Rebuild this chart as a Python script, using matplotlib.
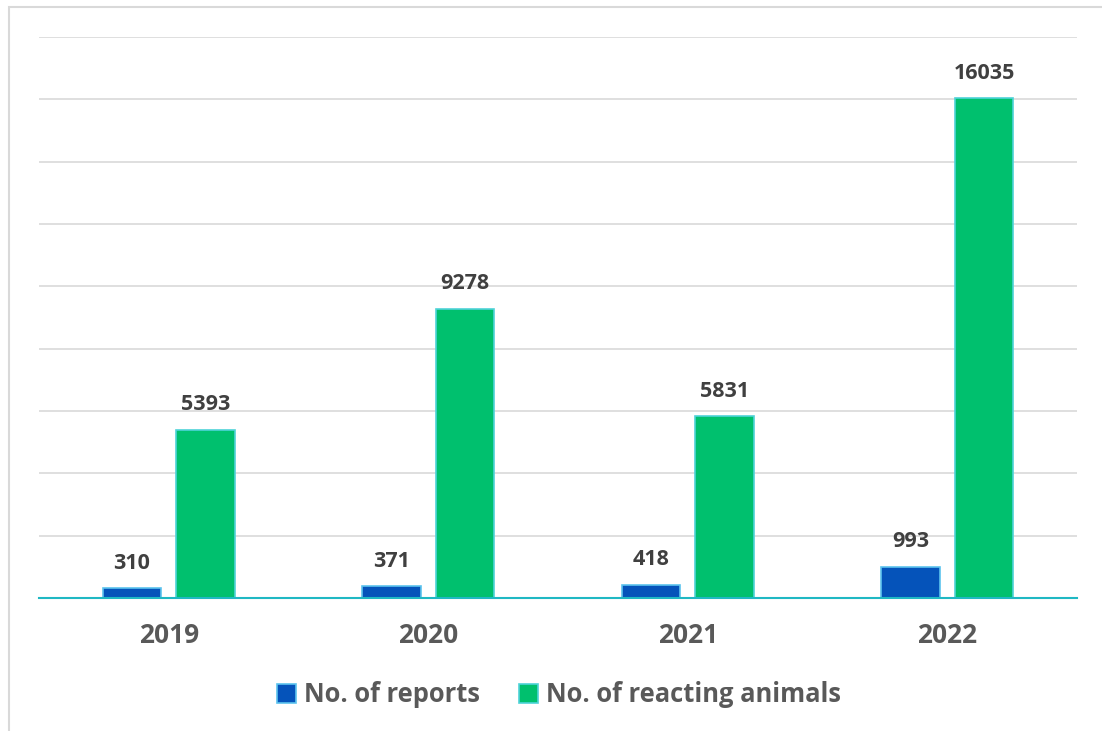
import matplotlib
matplotlib.use("Agg")
import matplotlib.pyplot as plt
from matplotlib.patches import Rectangle
import numpy as np

years = ["2019", "2020", "2021", "2022"]
reports = [310, 371, 418, 993]
animals = [5393, 9278, 5831, 16035]

plt.rcParams['font.family'] = ['Open Sans', 'DejaVu Sans']

fig = plt.figure(figsize=(11.02, 7.31), dpi=100)
W, H = 1102, 731
ax = fig.add_axes([39 / W, 1 - 598 / H, (1077 - 39) / W, (598 - 37) / H])

x = np.arange(len(years))
bw = 0.224
off = 0.1415
blue = "#0553BA"
green = "#00C06E"
b1 = ax.bar(x - off, reports, bw, color=blue, edgecolor="#5CC3EE", linewidth=1.2, zorder=3)
b2 = ax.bar(x + off, animals, bw, color=green, edgecolor="#4FD3D8", linewidth=1.2, zorder=3)

for rects, vals in ((b1, reports), (b2, animals)):
    for r, v in zip(rects, vals):
        ax.annotate(str(v), (r.get_x() + r.get_width() / 2, v), xytext=(0, 10.5),
                    textcoords="offset points", ha="center", va="bottom",
                    fontsize=15.5, fontweight="bold", color="#404040")

ax.set_xlim(-0.5, 3.5)
ax.set_ylim(0, 18000)
ax.set_yticks(np.arange(0, 18001, 2000))
ax.yaxis.grid(True, color="#D9D9D9", linewidth=1.2, zorder=0)
ax.set_yticklabels([])
ax.tick_params(axis="y", length=0)
ax.set_xticks(x)
ax.set_xticklabels(years, fontsize=19, fontweight="bold", color="#595959")
ax.tick_params(axis="x", length=0, pad=17)
for s in ("top", "right", "left"):
    ax.spines[s].set_visible(False)
ax.spines["bottom"].set_color("#1FB8C3")
ax.spines["bottom"].set_linewidth(1.5)
ax.spines["bottom"].set_zorder(4)

leg = fig.legend([b1, b2], ["No. of reports", "No. of reacting animals"],
                 loc="center", bbox_to_anchor=(559 / W, 1 - 695 / H), ncol=2,
                 frameon=False, handlelength=0.75, handleheight=0.75, handletextpad=0.3,
                 columnspacing=1.55,
                 prop={"family": ["Open Sans", "DejaVu Sans"], "weight": "bold", "size": 18.4})
for t in leg.get_texts():
    t.set_color("#595959")

fig.patches.append(Rectangle((9 / W, -0.05), 1.2, 1 - 7 / H + 0.05, transform=fig.transFigure,
                             fill=False, edgecolor="#D9D9D9", linewidth=1.5))

fig.savefig("out.png", dpi=100)
